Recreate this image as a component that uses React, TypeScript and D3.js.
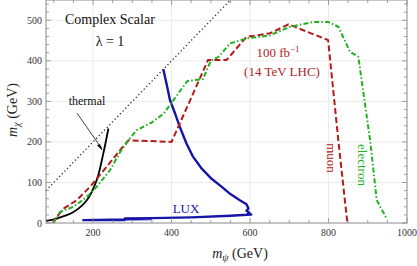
import React from 'react';
import * as d3 from 'd3';

// thermal relic curve (black)
const thermalX = [80, 107, 150, 184, 209, 226, 239];
const thermalY = [5, 11, 27, 56, 105, 171, 233];

// LHC 100 fb^-1 reach, muon channel (red dashed)
const muonX = [99, 99, 124, 158, 192, 234, 269, 290, 400, 493, 540, 591, 651, 698, 799, 825, 848];
const muonY = [0, 5, 35, 56, 89, 138, 180, 204, 200, 402, 402, 459, 468, 490, 451, 204, 0];

// LHC 100 fb^-1 reach, electron channel (green dot-dashed)
const elecX = [99, 116, 150, 184, 209, 243, 269, 294, 311, 350, 380, 405, 440, 480, 500, 520, 549, 591, 651, 702, 761, 799, 825, 855, 876, 906, 923, 948];
const elecY = [0, 27, 40, 64, 89, 130, 175, 209, 229, 248, 270, 303, 350, 355, 400, 410, 443, 455, 463, 484, 496, 496, 484, 422, 410, 204, 56, 11];

// LUX exclusion contour (blue)
const luxX = [379, 388, 396, 409, 421, 438, 455, 477, 502, 528, 549, 574, 591, 596, 591, 598, 594, 603, 550, 450, 350, 281, 280, 175, 280, 350];
const luxY = [379, 340, 303, 270, 237, 196, 163, 134, 109, 89, 72, 56, 46, 36, 30, 26, 23, 21, 18, 14, 12, 11, 7, 7, 9, 10];

// kinematic boundary m_X = m_psi (dotted)
const diagX = [80, 550];

const xMajor = [200, 400, 600, 800, 1000];
const yMajor = [0, 100, 200, 300, 400, 500];

const W = 417;
const H = 266;
const L = 46, R = 407, T = 0, B = 223;

const App: React.FC = () => {
  const x = d3.scaleLinear().domain([80, 1000]).range([L, R]);
  const y = d3.scaleLinear().domain([0, 550]).range([B, T]);

  const line = d3.line<[number, number]>().x(d => x(d[0])).y(d => y(d[1]));
  const smooth = d3.line<[number, number]>().x(d => x(d[0])).y(d => y(d[1])).curve(d3.curveCatmullRom);

  const zip = (a: number[], b: number[]) => a.map((v, i) => [v, b[i]] as [number, number]);

  const xMinor = d3.range(100, 1000, 50).filter(v => v % 200 !== 0);
  const yMinor = d3.range(20, 550, 20).filter(v => v % 100 !== 0);

  const font = "'Liberation Serif', 'DejaVu Serif', serif";
  const frame = '#8a8a8a';

  return (
    <svg width={W} height={H} style={{ position: 'absolute', left: 0, top: 0, background: '#fff', fontFamily: font }}>
      {/* grid */}
      <g stroke="#e6e6e6" strokeWidth={0.8}>
        {xMajor.filter(v => v < 1000).map(v => <line key={'gx' + v} x1={x(v)} x2={x(v)} y1={T} y2={B} />)}
        {yMajor.filter(v => v > 0).map(v => <line key={'gy' + v} x1={L} x2={R} y1={y(v)} y2={y(v)} />)}
      </g>

      {/* curves */}
      <path d={line(diagX.map(v => [v, v] as [number, number])) || ''} fill="none" stroke="#222" strokeWidth={1.3} strokeDasharray="1.2,2.6" />
      <path d={smooth(zip(thermalX, thermalY)) || ''} fill="none" stroke="#000" strokeWidth={1.8} />
      <path d={line(zip(luxX, luxY)) || ''} fill="none" stroke="#1515a8" strokeWidth={2.4} strokeLinejoin="round" />
      <path d={line(zip(muonX, muonY)) || ''} fill="none" stroke="#b31b1b" strokeWidth={2} strokeDasharray="6,3" />
      <path d={line(zip(elecX, elecY)) || ''} fill="none" stroke="#22b022" strokeWidth={2} strokeDasharray="5,2.2,1.5,2.2" />

      {/* frame */}
      <rect x={L} y={T} width={R - L} height={B - T} fill="none" stroke={frame} strokeWidth={1} />
      <g stroke={frame} strokeWidth={0.8}>
        {xMajor.map(v => (
          <g key={'tx' + v}>
            <line x1={x(v)} x2={x(v)} y1={B} y2={B - 5} />
            <line x1={x(v)} x2={x(v)} y1={T} y2={T + 5} />
          </g>
        ))}
        {xMinor.map(v => (
          <g key={'mx' + v}>
            <line x1={x(v)} x2={x(v)} y1={B} y2={B - 3} />
            <line x1={x(v)} x2={x(v)} y1={T} y2={T + 3} />
          </g>
        ))}
        {yMajor.map(v => (
          <g key={'ty' + v}>
            <line x1={L} x2={L + 5} y1={y(v)} y2={y(v)} />
            <line x1={R} x2={R - 5} y1={y(v)} y2={y(v)} />
          </g>
        ))}
        {yMinor.map(v => (
          <g key={'my' + v}>
            <line x1={L} x2={L + 3} y1={y(v)} y2={y(v)} />
            <line x1={R} x2={R - 3} y1={y(v)} y2={y(v)} />
          </g>
        ))}
      </g>

      {/* tick labels */}
      <g fontSize={10} fill="#333">
        {xMajor.map(v => (
          <text key={'lx' + v} x={x(v)} y={B + 13} textAnchor="middle" style={{ fontFamily: font }}>{v}</text>
        ))}
        {yMajor.map(v => (
          <text key={'ly' + v} x={L - 4} y={y(v) + 3.5} textAnchor="end" style={{ fontFamily: font }}>{v}</text>
        ))}
      </g>

      {/* axis labels */}
      <text x={240} y={258} textAnchor="middle" fontSize={14} fill="#222" style={{ fontFamily: font }}>
        <tspan fontStyle="italic">m</tspan>
        <tspan fontSize={10} dy={3} fontStyle="italic">ψ</tspan>
        <tspan dy={-3}> (GeV)</tspan>
      </text>
      <text transform="translate(17,110) rotate(-90)" textAnchor="middle" fontSize={14} fill="#222" style={{ fontFamily: font }}>
        <tspan fontStyle="italic">m</tspan>
        <tspan fontSize={10} dy={3} fontStyle="italic">χ</tspan>
        <tspan dy={-3}> (GeV)</tspan>
      </text>

      {/* annotations */}
      <text x={65} y={24} fontSize={14} fill="#111" style={{ fontFamily: font }}>Complex Scalar</text>
      <text x={110} y={46} fontSize={14} fill="#111" textAnchor="middle" style={{ fontFamily: font }}>λ = 1</text>

      <text x={87} y={105} fontSize={12} fill="#111" textAnchor="middle" style={{ fontFamily: font }}>thermal</text>
      <line x1={x(159)} y1={y(271)} x2={x(221)} y2={y(185)} stroke="#111" strokeWidth={0.8} />
      <path d={`M${x(223)},${y(180)} l-4.8,-4.6 l2.6,-1.0 z`} fill="#111" stroke="#111" strokeWidth={0.6} />

      <text x={186} y={213} fontSize={13} fill="#1515a8" textAnchor="middle" style={{ fontFamily: font }}>LUX</text>

      <text x={278} y={57} fontSize={13} fill="#b31b1b" textAnchor="middle" style={{ fontFamily: font }}>
        100 fb<tspan fontSize={9} dy={-5}>−1</tspan>
      </text>
      <text x={282} y={76} fontSize={13} fill="#b31b1b" textAnchor="middle" style={{ fontFamily: font }}>(14 TeV LHC)</text>

      <text transform="translate(327,158) rotate(90)" fontSize={13} fill="#b31b1b" textAnchor="middle" style={{ fontFamily: font }}>muon</text>
      <text transform="translate(358,165) rotate(90)" fontSize={13} fill="#22b022" textAnchor="middle" style={{ fontFamily: font }}>electron</text>
    </svg>
  );
};

export default App;
